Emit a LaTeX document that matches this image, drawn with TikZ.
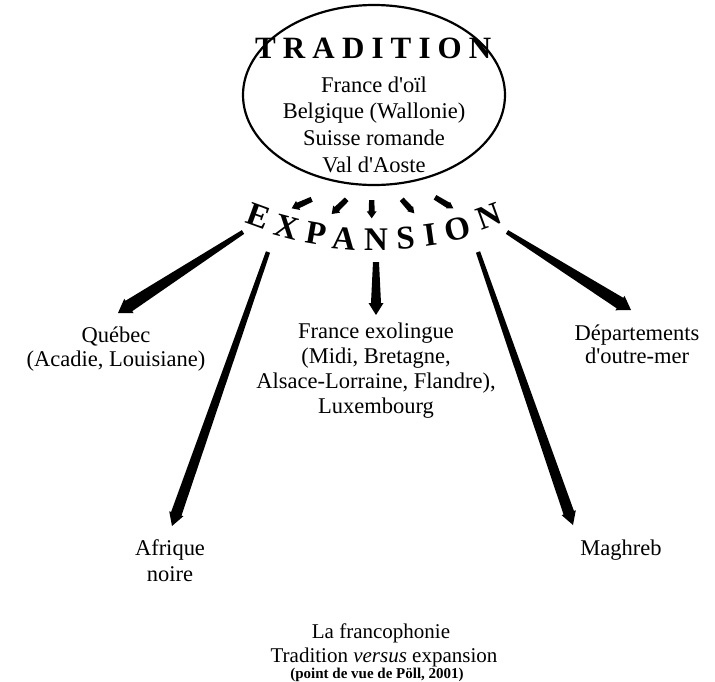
\documentclass[tikz,border=0pt]{standalone}
\usepackage{fontspec}
\setmainfont{Liberation Serif}[Ligatures=TeXOff]
\usetikzlibrary{shapes.geometric,calc}
% tapered arrow: #1 tail, #2 tip, #3 tail half width, #4 shaft end half width, #5 head half width, #6 head length
\newcommand\taparrow[6]{%
  \coordinate (tpH) at ($(#2)!#6!(#1)$);
  \fill ($(#1)!#3!90:(#2)$) -- ($(tpH)!#4!90:(#2)$) -- ($(tpH)!#5!90:(#2)$) -- (#2)
     -- ($(tpH)!#5!-90:(#2)$) -- ($(tpH)!#4!-90:(#2)$) -- ($(#1)!#3!-90:(#2)$) -- cycle;
}
\begin{document}
\begin{tikzpicture}[x=1pt,y=-1pt,
  lab/.style={font=\fontsize{22.5}{26}\selectfont, inner sep=0pt, anchor=base},
  captxt/.style={font=\fontsize{21}{24}\selectfont, inner sep=0pt, anchor=base},
  capsmall/.style={font=\fontsize{15}{17}\selectfont\bfseries, inner sep=0pt, anchor=base},
  letter/.style={font=\fontsize{33}{35}\selectfont\bfseries, inner sep=0pt, anchor=center},
  oval/.style={draw, ellipse, line width=2.2pt, inner sep=0pt}]
\useasboundingbox (0,0) rectangle (715,681);

% Tradition ellipse
\node[oval, minimum width=262pt, minimum height=180pt] (trad) at (374,95) {};
\node[inner sep=0pt, anchor=base west,
      font=\fontsize{31}{33}\selectfont\bfseries\addfontfeature{LetterSpace=23}] (tradtitle) at (255,58) {TRADITION};
\node[lab] (t1) at (374,92) {France d'oïl};
\node[lab] (t2) at (374,118) {Belgique (Wallonie)};
\node[lab] (t3) at (374,145) {Suisse romande};
\node[lab] (t4) at (374,172) {Val d'Aoste};

% EXPANSION along an arc
\node[letter, rotate=-20] (x1) at (259,216.5) {E};
\node[letter, rotate=-15] (x2) at (287,227) {X};
\node[letter, rotate=-10] (x3) at (316.5,234) {P};
\node[letter, rotate=-5]  (x4) at (344,239) {A};
\node[letter, rotate=0]   (x5) at (376,239.5) {N};
\node[letter, rotate=4]   (x6) at (405.5,238.5) {S};
\node[letter, rotate=8]   (x7) at (430,235) {I};
\node[letter, rotate=13]  (x8) at (457.5,229) {O};
\node[letter, rotate=20]  (x9) at (489,216) {N};

% small arrows below the ellipse
\coordinate (s1a) at (311.7,199.3); \coordinate (s1b) at (291.7,208.3);
\coordinate (s2a) at (346.7,199.3); \coordinate (s2b) at (331.7,214);
\coordinate (s3a) at (371.7,200);   \coordinate (s3b) at (371.7,218.3);
\coordinate (s4a) at (401.7,199.3); \coordinate (s4b) at (414.3,213.3);
\coordinate (s5a) at (435,197.3);   \coordinate (s5b) at (453.3,208.3);
\taparrow{s1a}{s1b}{2.6pt}{3pt}{5pt}{7pt}
\taparrow{s2a}{s2b}{2.6pt}{3pt}{5pt}{7pt}
\taparrow{s3a}{s3b}{2.6pt}{3pt}{5pt}{7pt}
\taparrow{s4a}{s4b}{2.6pt}{3pt}{3.8pt}{6pt}
\taparrow{s5a}{s5b}{2.6pt}{3pt}{3.8pt}{6pt}

% destination labels
\node[lab] (q1) at (116,342) {Québec};
\node[lab] (q2) at (116,366) {(Acadie, Louisiane)};
\node[lab] (f1) at (376,338) {France exolingue};
\node[lab] (f2) at (376,363) {(Midi, Bretagne,};
\node[lab] (f3) at (376,388) {Alsace-Lorraine, Flandre),};
\node[lab] (f4) at (376,413) {Luxembourg};
\node[lab] (d1) at (637,340) {Départements};
\node[lab] (d2) at (637,363) {d'outre-mer};
\node[lab] (a1) at (170,555) {Afrique};
\node[lab] (a2) at (170,581) {noire};
\node[lab] (m1) at (621,555) {Maghreb};

% big arrows
\coordinate (qa) at (243,232); \coordinate (qb) at (118,313);
\coordinate (aa) at (268,252); \coordinate (ab) at (172,526);
\coordinate (ca) at (376,262); \coordinate (cb) at (376,315);
\coordinate (ma) at (478,252); \coordinate (mb) at (573,525);
\coordinate (da) at (507,232); \coordinate (db) at (631,310);
\taparrow{qa}{qb}{2.2pt}{6.2pt}{8.5pt}{13pt}
\taparrow{aa}{ab}{2.2pt}{5.5pt}{7.5pt}{13pt}
\taparrow{ca}{cb}{3pt}{5pt}{7.5pt}{12pt}
\taparrow{ma}{mb}{2.2pt}{5.5pt}{7.5pt}{13pt}
\taparrow{da}{db}{2.2pt}{6.2pt}{8.5pt}{13pt}

% caption
\node[captxt] (c1) at (381,638) {La francophonie};
\node[captxt] (c2) at (384,662) {Tradition \textit{versus} expansion};
\node[capsmall] (c3) at (377,678) {(point de vue de Pöll, 2001)};
\end{tikzpicture}
\end{document}
